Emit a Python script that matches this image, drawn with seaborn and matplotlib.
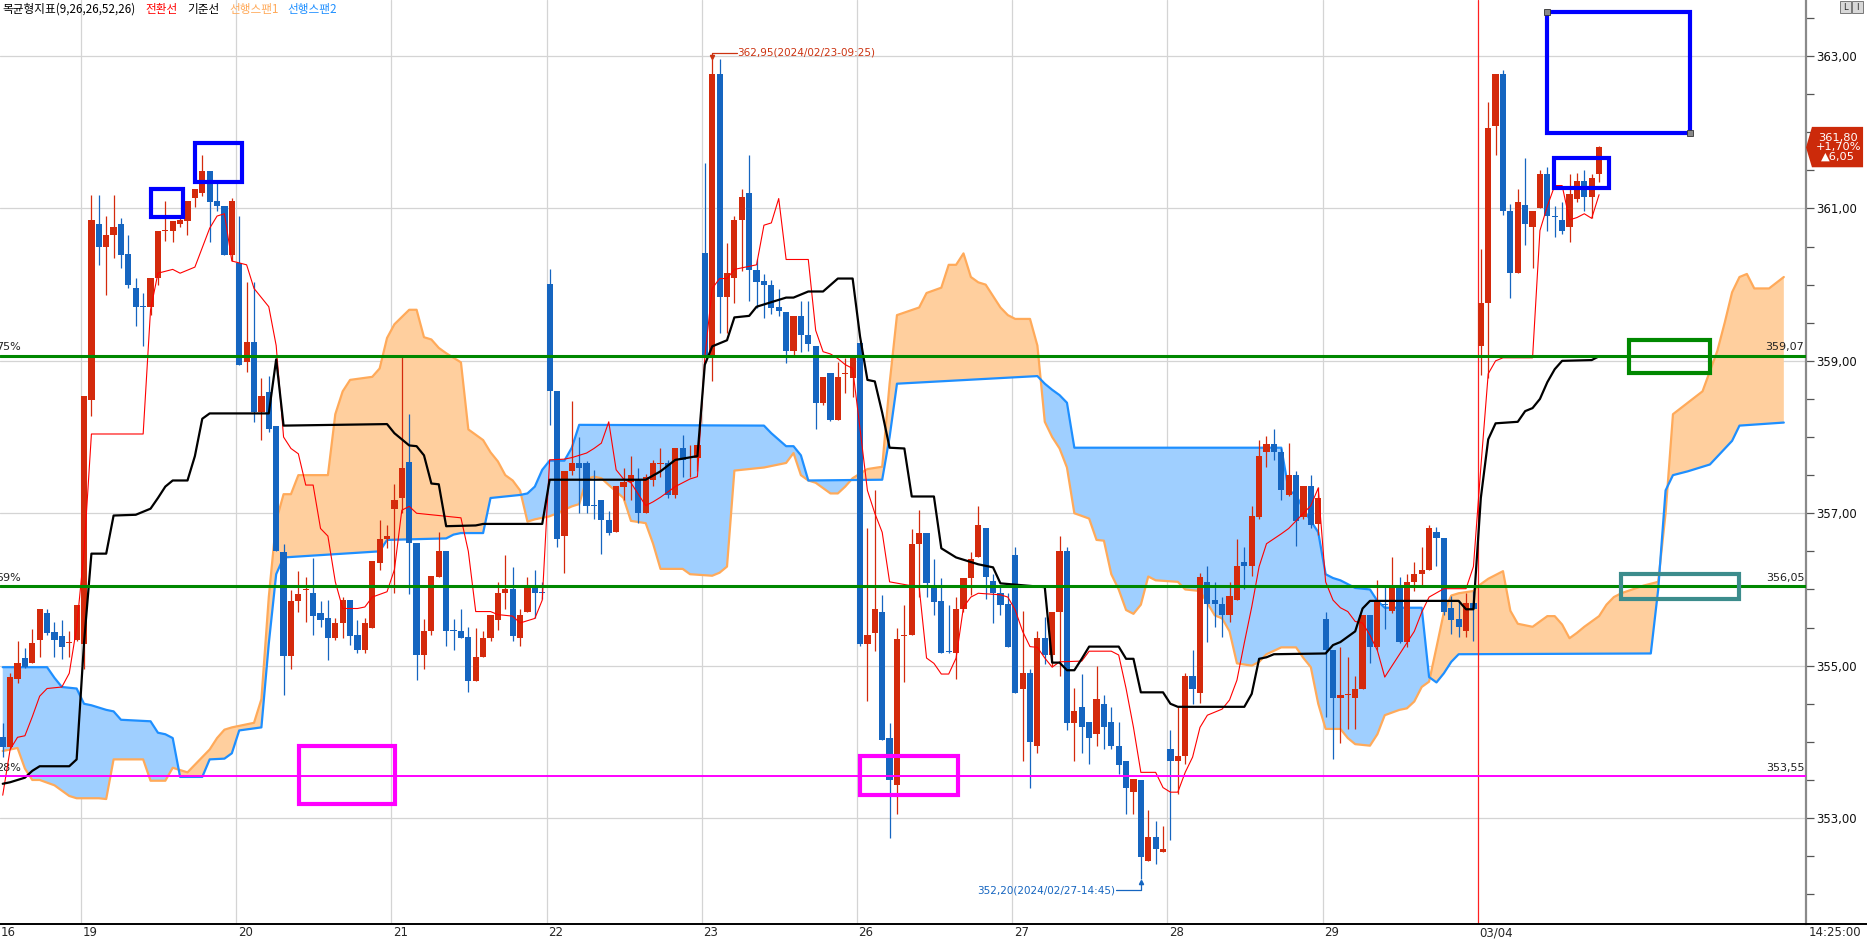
import numpy as np
import pandas as pd
import matplotlib
matplotlib.use("Agg")
import matplotlib.pyplot as plt
import matplotlib.transforms as mtransforms
from matplotlib.patches import Rectangle, Polygon
from matplotlib.lines import Line2D
from matplotlib.ticker import FuncFormatter
import seaborn as sns

# ---- candles (20 min bars), index 0 = first visible bar ----
opens = [354.06, 353.93, 354.83, 355.10, 355.03, 355.34, 355.69, 355.44, 355.39, 355.30,
         355.34, 355.29, 358.49, 360.79, 360.50, 360.65, 360.79, 360.40, 359.95, 359.71,
         359.70, 360.09, 360.70, 360.70, 360.79, 360.84, 361.14, 361.20, 361.49, 361.10,
         361.03, 360.39, 360.29, 358.98, 359.25, 358.33, 358.59, 358.15, 356.49, 355.13,
         355.85, 355.99, 355.95, 355.69, 355.62, 355.36, 355.56, 355.86, 355.40, 355.21,
         355.50, 356.35, 356.66, 357.05, 357.20, 357.67, 356.61, 355.14, 355.45, 356.16,
         356.50, 355.46, 355.45, 355.37, 354.80, 355.11, 355.36, 355.60, 355.95, 356.00,
         355.36, 355.70, 356.04, 355.96, 360.01, 358.60, 356.70, 357.55, 357.66, 357.66,
         357.10, 357.17, 356.91, 356.75, 357.35, 357.41, 357.45, 357.00, 357.43, 357.64,
         357.66, 357.24, 357.85, 357.72, 357.72, 360.41, 359.07, 362.76, 359.84, 360.09,
         360.85, 361.20, 360.19, 360.05, 360.00, 359.71, 359.64, 359.13, 359.59, 359.34,
         359.20, 358.45, 358.84, 358.23, 358.83, 358.78, 359.24, 355.28, 355.43, 355.70,
         354.05, 353.43, 355.39, 355.40, 356.60, 356.74, 356.03, 355.85, 355.19, 355.17,
         355.75, 356.15, 356.42, 356.81, 356.11, 355.95, 355.81, 356.45, 354.70, 354.90,
         353.95, 355.36, 355.14, 355.70, 356.50, 354.25, 354.46, 354.26, 354.10, 354.50,
         354.26, 353.95, 353.75, 353.34, 353.50, 352.44, 352.75, 352.55, 353.90, 353.75,
         353.81, 354.86, 354.64, 356.10, 355.86, 355.81, 355.66, 355.86, 356.36, 356.31,
         356.95, 357.81, 357.91, 357.81, 357.24, 357.50, 356.95, 357.36, 356.86, 355.61,
         355.21, 354.57, 354.61, 354.57, 354.70, 355.66, 355.25, 355.80, 355.72, 356.04,
         355.31, 356.10, 356.20, 356.25, 356.76, 356.67, 355.76, 355.61, 355.45, 355.82,
         359.19, 359.76, 362.08, 362.76, 360.96, 360.15, 361.05, 360.75, 361.00, 361.45,
         360.90, 360.85, 360.75, 361.13, 361.36, 361.15, 361.45]
highs = [354.25, 354.90, 355.33, 355.23, 355.48, 355.74, 355.75, 355.57, 355.60, 355.46,
         355.80, 358.54, 361.18, 361.18, 360.90, 361.18, 360.88, 360.65, 360.09, 359.89,
         360.09, 360.70, 361.10, 360.84, 360.90, 361.10, 361.25, 361.70, 361.49, 361.35,
         361.03, 361.14, 360.90, 360.03, 360.03, 358.78, 358.80, 358.15, 356.59, 355.99,
         356.24, 356.16, 356.41, 355.85, 355.86, 355.62, 355.90, 355.86, 355.60, 355.62,
         356.37, 356.91, 356.85, 357.39, 359.07, 358.30, 356.61, 355.61, 356.17, 356.75,
         356.50, 355.61, 355.75, 355.51, 355.50, 355.45, 355.66, 356.10, 356.45, 356.30,
         355.75, 356.16, 356.25, 356.10, 360.20, 358.60, 357.56, 358.47, 358.00, 357.68,
         357.57, 357.17, 357.03, 357.36, 357.59, 357.75, 357.60, 357.51, 357.70, 357.85,
         357.70, 357.85, 358.03, 357.90, 357.90, 361.60, 362.96, 362.96, 360.54, 360.90,
         361.26, 361.70, 360.34, 360.14, 360.06, 359.94, 359.64, 359.59, 359.78, 359.79,
         359.20, 358.79, 358.84, 358.99, 359.04, 359.04, 359.24, 356.81, 357.30, 355.93,
         354.25, 355.50, 355.80, 356.79, 357.04, 356.74, 356.40, 356.15, 355.80, 355.90,
         356.15, 356.49, 357.10, 356.81, 356.20, 356.03, 355.95, 356.56, 355.72, 354.96,
         355.46, 355.64, 355.70, 356.70, 356.56, 354.71, 354.89, 354.26, 355.00, 354.61,
         354.46, 354.26, 353.75, 353.51, 353.50, 353.10, 352.96, 352.90, 354.15, 354.46,
         354.90, 355.20, 356.21, 356.31, 356.10, 355.90, 356.10, 356.66, 356.56, 357.10,
         357.96, 358.01, 358.10, 357.86, 357.92, 357.56, 357.36, 357.50, 357.35, 355.70,
         355.21, 355.25, 355.12, 354.87, 355.67, 355.66, 356.12, 356.04, 356.42, 356.16,
         356.20, 356.36, 356.56, 356.85, 356.82, 356.67, 355.91, 355.86, 355.95, 355.98,
         360.47, 362.40, 362.76, 362.82, 361.06, 361.25, 361.66, 360.96, 361.51, 361.55,
         361.03, 361.09, 361.45, 361.47, 361.51, 361.45, 361.82]
lows = [353.80, 353.90, 354.77, 354.97, 355.03, 355.12, 355.40, 355.12, 355.09, 355.12,
        355.32, 354.95, 358.27, 360.26, 359.87, 360.35, 360.22, 359.95, 359.46, 359.20,
        359.60, 360.00, 360.57, 360.56, 360.76, 360.65, 361.02, 361.16, 360.56, 360.96,
        360.39, 360.31, 358.95, 358.85, 358.20, 357.96, 358.07, 356.50, 354.61, 354.96,
        355.71, 355.57, 355.40, 355.51, 355.07, 355.34, 355.36, 355.27, 355.16, 355.16,
        355.50, 356.26, 356.55, 355.95, 357.00, 355.94, 354.81, 354.96, 355.40, 356.16,
        355.26, 355.21, 355.36, 354.66, 354.80, 355.11, 355.32, 355.47, 355.75, 355.32,
        355.26, 355.70, 355.62, 355.87, 358.16, 356.56, 356.21, 357.50, 357.00, 357.00,
        356.93, 356.47, 356.72, 356.75, 357.17, 357.17, 356.87, 357.00, 357.36, 357.48,
        357.20, 357.20, 357.48, 357.48, 357.55, 359.07, 358.73, 359.36, 359.36, 359.76,
        360.18, 359.79, 359.69, 359.56, 359.62, 359.59, 358.97, 359.07, 359.11, 359.13,
        358.11, 358.42, 358.21, 358.23, 358.58, 358.52, 355.26, 354.54, 355.19, 354.03,
        352.74, 353.05, 354.79, 355.40, 355.90, 355.90, 355.66, 355.17, 355.16, 354.83,
        355.70, 355.93, 356.42, 355.87, 355.56, 355.66, 355.25, 354.64, 353.75, 353.40,
        353.86, 355.02, 355.00, 354.86, 354.15, 353.75, 353.86, 353.71, 353.95, 353.91,
        353.91, 353.58, 353.06, 353.06, 352.20, 352.44, 352.40, 352.55, 352.71, 353.32,
        353.71, 354.50, 354.51, 355.31, 355.51, 355.37, 355.57, 355.86, 356.01, 356.17,
        356.93, 357.61, 357.70, 357.18, 357.23, 356.57, 356.93, 356.81, 356.72, 354.32,
        353.77, 353.99, 354.17, 354.17, 354.70, 355.03, 355.21, 355.48, 355.69, 355.30,
        355.24, 355.98, 356.04, 356.25, 356.31, 355.67, 355.42, 355.37, 355.37, 355.33,
        358.82, 358.78, 361.70, 360.91, 359.82, 360.15, 360.52, 360.22, 361.00, 360.71,
        360.62, 360.66, 360.56, 361.09, 360.96, 360.87, 361.35]
closes = [353.93, 354.85, 355.04, 354.98, 355.30, 355.74, 355.43, 355.34, 355.24, 355.31,
          355.80, 358.54, 360.85, 360.50, 360.65, 360.75, 360.39, 359.99, 359.70, 359.70,
          360.09, 360.70, 360.71, 360.84, 360.85, 361.10, 361.25, 361.49, 361.08, 361.03,
          360.39, 361.10, 358.95, 359.25, 358.33, 358.54, 358.10, 356.50, 355.13, 355.85,
          355.94, 356.00, 355.65, 355.60, 355.36, 355.56, 355.86, 355.39, 355.21, 355.56,
          356.37, 356.66, 356.70, 357.17, 357.60, 356.61, 355.14, 355.46, 356.17, 356.50,
          355.45, 355.45, 355.36, 354.80, 355.11, 355.36, 355.66, 355.95, 356.00, 355.39,
          355.66, 356.04, 355.95, 355.95, 358.60, 356.66, 357.56, 357.66, 357.60, 357.10,
          357.09, 356.91, 356.74, 357.36, 357.41, 357.50, 357.00, 357.48, 357.66, 357.65,
          357.24, 357.85, 357.70, 357.73, 357.90, 359.07, 362.76, 359.84, 360.15, 360.85,
          361.15, 360.19, 360.04, 359.99, 359.69, 359.66, 359.13, 359.59, 359.34, 359.22,
          358.45, 358.79, 358.23, 358.79, 358.84, 359.04, 355.28, 355.40, 355.75, 354.03,
          353.50, 355.35, 355.40, 356.60, 356.74, 356.09, 355.83, 355.17, 355.18, 355.75,
          356.15, 356.40, 356.84, 356.16, 355.95, 355.79, 355.25, 354.64, 354.90, 354.00,
          355.36, 355.14, 355.70, 356.50, 354.25, 354.40, 354.19, 354.05, 354.56, 354.19,
          353.95, 353.69, 353.39, 353.51, 352.49, 352.75, 352.59, 352.59, 353.75, 353.81,
          354.86, 354.70, 356.16, 355.81, 355.81, 355.66, 355.91, 356.31, 356.31, 356.96,
          357.75, 357.91, 357.81, 357.30, 357.50, 356.90, 357.36, 356.84, 357.20, 355.21,
          354.57, 354.62, 354.62, 354.70, 355.67, 355.25, 355.86, 355.79, 356.04, 355.31,
          356.10, 356.20, 356.26, 356.81, 356.67, 355.70, 355.60, 355.51, 355.82, 355.75,
          359.76, 362.06, 362.76, 360.96, 360.15, 361.09, 360.80, 360.96, 361.45, 360.90,
          360.89, 360.71, 361.19, 361.36, 361.15, 361.40, 361.80]

# ---- ichimoku lines, read as (bar index, value) turning points ----
tenkan_x = [0, 1, 2, 3, 4, 5, 6, 8, 9, 10, 11, 12, 19, 20, 21, 23, 24, 26, 28, 29, 30, 31, 33, 34, 36, 37, 38,
            39, 40, 41, 42, 43, 44, 45, 46, 48, 49, 50, 52, 53, 54, 55, 56, 62, 63, 64, 66, 67, 69, 70, 72, 73,
            74, 76, 77, 79, 80, 81, 82, 83, 84, 85, 86, 87, 88, 89, 91, 93, 94, 95, 96, 97, 98, 99, 102, 103,
            104, 105, 106, 109, 110, 111, 112, 113, 114, 115, 116, 117, 118, 119, 120, 124, 125, 126, 127, 128,
            129, 130, 131, 132, 135, 136, 137, 138, 139, 140, 141, 142, 143, 146, 147, 150, 151, 152, 153, 154,
            156, 157, 158, 159, 160, 161, 162, 163, 165, 166, 167, 168, 169, 170, 171, 173, 174, 175, 176, 177,
            178, 179, 180, 181, 182, 183, 184, 185, 186, 187, 188, 189, 190, 191, 192, 193, 195, 198, 199, 200,
            201, 202, 203, 207, 208, 209, 210, 211, 212, 213, 214, 215, 216]
tenkan_y = [353.3, 353.9, 354.06, 354.08, 354.33, 354.6, 354.7, 354.72, 354.9, 355.5, 356.5, 358.04, 358.04,
            359.67, 360.15, 360.2, 360.15, 360.23, 360.74, 360.9, 360.93, 360.31, 360.26, 359.95, 359.71, 359.2,
            358.0, 357.85, 357.78, 357.37, 357.37, 356.8, 356.7, 356.1, 355.75, 355.75, 355.77, 355.9, 355.97,
            356.26, 357.04, 357.09, 357.0, 356.94, 356.5, 355.71, 355.71, 355.67, 355.65, 355.56, 355.62, 355.86,
            357.7, 357.71, 357.73, 357.79, 357.85, 357.92, 358.2, 357.57, 357.45, 357.4, 357.25, 357.1, 357.15,
            357.21, 357.35, 357.45, 357.48, 359.05, 359.95, 360.08, 360.08, 360.2, 360.26, 360.78, 360.81, 361.13,
            360.33, 360.33, 359.4, 359.12, 359.09, 359.03, 358.95, 358.9, 358.11, 357.3, 357.0, 356.75, 356.1,
            356.03, 355.1, 355.03, 354.89, 354.89, 355.1, 355.77, 355.9, 355.95, 355.93, 355.9, 355.73, 355.45,
            355.25, 355.24, 355.1, 354.98, 355.05, 355.06, 355.19, 355.19, 355.14, 354.7, 354.19, 353.6, 353.6,
            353.4, 353.34, 353.34, 353.6, 353.8, 354.19, 354.35, 354.43, 354.55, 354.81, 355.3, 355.77, 356.3,
            356.6, 356.73, 356.8, 356.9, 357.0, 357.1, 357.33, 356.1, 355.86, 355.76, 355.71, 355.58, 355.56,
            355.4, 355.2, 354.85, 355.0, 355.15, 355.3, 355.45, 355.7, 355.9, 356.01, 356.01, 356.3, 357.6,
            358.83, 359.0, 359.04, 359.04, 360.71, 361.03, 361.3, 361.3, 360.85, 360.88, 360.93, 360.87, 361.18]

kijun_x = [0, 1, 2, 3, 4, 5, 9, 10, 11, 12, 14, 15, 18, 20, 21, 22, 23, 25, 26, 27, 28, 36, 37, 38, 52, 53, 55,
           56, 57, 58, 59, 60, 64, 65, 73, 74, 87, 89, 91, 94, 95, 96, 98, 99, 101, 102, 106, 107, 109, 111, 113,
           115, 116, 117, 118, 119, 120, 122, 123, 126, 127, 129, 132, 134, 135, 141, 142, 143, 144, 145, 146,
           147, 151, 152, 153, 154, 157, 158, 159, 168, 169, 170, 171, 172, 179, 180, 181, 182, 183, 184, 185,
           197, 198, 199, 200, 201, 202, 205, 206, 207, 208, 209, 210, 211, 215, 216]
kijun_y = [353.45, 353.47, 353.5, 353.53, 353.62, 353.68, 353.68, 353.77, 355.3, 356.47, 356.47, 356.97, 356.98,
           357.06, 357.2, 357.35, 357.43, 357.43, 357.75, 358.24, 358.31, 358.31, 359.02, 358.15, 358.17, 358.05,
           357.89, 357.88, 357.76, 357.39, 357.38, 356.83, 356.84, 356.86, 356.86, 357.44, 357.44, 357.55, 357.7,
           357.75, 358.95, 359.19, 359.27, 359.57, 359.59, 359.71, 359.83, 359.83, 359.91, 359.91, 360.08,
           360.08, 359.32, 358.75, 358.73, 358.32, 357.86, 357.85, 357.22, 357.22, 356.54, 356.42, 356.33,
           356.29, 356.08, 356.03, 355.04, 355.04, 354.94, 354.94, 355.09, 355.25, 355.25, 355.09, 355.09,
           354.65, 354.65, 354.5, 354.46, 354.46, 354.63, 355.09, 355.11, 355.15, 355.16, 355.27, 355.31,
           355.38, 355.45, 355.75, 355.85, 355.85, 355.74, 355.74, 357.2, 357.97, 358.18, 358.2, 358.34, 358.38,
           358.5, 358.72, 358.89, 359.0, 359.01, 359.06]

span1_x = [0, 1, 2, 3, 4, 5, 7, 9, 10, 13, 14, 15, 19, 20, 22, 23, 25, 26, 28, 29, 30, 31, 34, 35, 36, 37, 38,
           39, 40, 44, 45, 46, 47, 50, 51, 52, 53, 55, 56, 57, 58, 59, 60, 62, 63, 64, 65, 66, 67, 68, 69, 70,
           71, 72, 74, 75, 77, 78, 79, 80, 81, 82, 84, 85, 87, 88, 89, 92, 93, 96, 97, 98, 99, 103, 106, 107,
           108, 109, 110, 112, 113, 114, 115, 117, 119, 120, 121, 124, 125, 127, 128, 129, 130, 131, 132, 133,
           134, 135, 136, 137, 139, 140, 141, 142, 143, 144, 145, 147, 148, 149, 150, 151, 152, 153, 154, 155,
           156, 159, 160, 162, 163, 164, 165, 166, 167, 169, 170, 171, 173, 175, 176, 177, 178, 179, 181, 182,
           183, 185, 186, 187, 189, 190, 191, 192, 193, 194, 195, 196, 197, 199, 200, 201, 203, 204, 205, 207,
           209, 210, 211, 212, 213, 214, 216, 217, 218, 219, 222, 224, 225, 226, 228, 230, 232, 233, 234, 235,
           236, 237, 239, 241]
span1_y = [353.88, 353.9, 353.92, 353.65, 353.5, 353.5, 353.43, 353.29, 353.26, 353.26, 353.25, 353.77, 353.77,
           353.49, 353.49, 353.66, 353.6, 353.7, 353.9, 354.05, 354.16, 354.19, 354.25, 354.56, 355.9, 356.9,
           357.25, 357.25, 357.5, 357.5, 358.3, 358.6, 358.75, 358.79, 358.9, 359.3, 359.48, 359.67, 359.67,
           359.31, 359.28, 359.17, 359.1, 358.98, 358.1, 358.03, 357.96, 357.8, 357.68, 357.5, 357.43, 357.3,
           356.89, 356.92, 356.96, 357.0, 357.09, 357.12, 357.45, 357.48, 357.46, 357.37, 357.2, 356.9, 356.87,
           356.6, 356.27, 356.27, 356.2, 356.18, 356.22, 356.3, 357.56, 357.6, 357.66, 357.79, 357.5, 357.43,
           357.4, 357.26, 357.26, 357.35, 357.46, 357.58, 357.61, 358.7, 359.6, 359.7, 359.89, 359.96, 360.26,
           360.26, 360.41, 360.1, 360.03, 360.0, 359.85, 359.7, 359.6, 359.55, 359.55, 359.2, 358.2, 358.0,
           357.85, 357.6, 357.0, 356.93, 356.65, 356.64, 356.2, 356.0, 355.73, 355.68, 355.8, 356.17, 356.12,
           356.1, 356.0, 355.98, 355.82, 355.66, 355.62, 355.45, 355.03, 355.0, 355.05, 355.15, 355.24, 355.24,
           355.1, 354.98, 354.5, 354.17, 354.17, 354.05, 353.97, 353.95, 354.1, 354.35, 354.42, 354.44, 354.53,
           354.72, 354.79, 355.24, 355.7, 355.92, 355.95, 355.98, 356.07, 356.14, 356.24, 355.72, 355.55,
           355.51, 355.65, 355.65, 355.54, 355.36, 355.43, 355.51, 355.65, 355.8, 355.9, 355.95, 356.05, 356.1,
           357.0, 358.3, 358.45, 358.6, 359.13, 359.5, 359.9, 360.1, 360.14, 359.95, 359.95, 360.1]

span2_x = [0, 6, 7, 8, 10, 11, 12, 14, 15, 16, 20, 21, 22, 23, 24, 27, 28, 30, 31, 32, 35, 36, 37, 38, 51, 52,
           60, 61, 62, 65, 66, 70, 71, 72, 73, 74, 76, 77, 78, 103, 104, 106, 107, 108, 109, 119, 120, 121, 140,
           141, 142, 143, 144, 145, 173, 174, 175, 176, 177, 178, 179, 180, 181, 183, 185, 186, 187, 192, 193,
           194, 195, 196, 197, 223, 224, 225, 226, 228, 231, 234, 235, 241]
span2_y = [354.98, 354.98, 354.84, 354.72, 354.7, 354.5, 354.48, 354.42, 354.4, 354.29, 354.27, 354.12, 354.1,
           354.05, 353.54, 353.54, 353.77, 353.78, 353.85, 354.15, 354.19, 355.29, 356.2, 356.42, 356.5, 356.65,
           356.67, 356.72, 356.74, 356.74, 357.2, 357.24, 357.26, 357.35, 357.57, 357.69, 357.69, 357.86,
           358.16, 358.15, 358.05, 357.88, 357.88, 357.76, 357.43, 357.44, 358.0, 358.7, 358.8, 358.7, 358.62,
           358.55, 358.45, 357.86, 357.86, 357.3, 357.24, 357.05, 356.9, 356.75, 356.2, 356.15, 356.12, 356.02,
           356.0, 355.85, 355.76, 355.76, 354.85, 354.78, 354.9, 355.05, 355.15, 355.16, 356.0, 357.3, 357.5,
           357.55, 357.64, 357.95, 358.15, 358.19]

day_labels = ['19', '20', '21', '22', '23', '26', '27', '28', '29', '03/04']
day_first_bar = [11, 32, 53, 74, 95, 116, 137, 158, 179, 200]

levels = [359.07, 356.05, 353.55]
level_pct = ['75%', '59%', '28%']
level_colors = ['#008800', '#008800', '#ff00ff']

# drawn boxes: x0, y0, x1, y1, colour
boxes = [(20.0, 360.89, 24.4, 361.25, '#0000ff'),
         (26.0, 361.35, 32.4, 361.86, '#0000ff'),
         (209.0, 361.99, 228.3, 363.58, '#0000ff'),
         (209.9, 361.27, 217.4, 361.66, '#0000ff'),
         (40.1, 353.19, 53.1, 353.95, '#ff00ff'),
         (116.0, 353.30, 129.3, 353.81, '#ff00ff'),
         (220.1, 358.84, 231.0, 359.27, '#008800'),
         (218.9, 355.88, 235.0, 356.20, '#3c8c8c')]

UP = '#d42a0c'
DOWN = '#1565c0'


def kr(v):
    return f'{v:.2f}'.replace('.', ',')


sns.set_theme(style='white')
plt.rcParams['font.family'] = ['DejaVu Sans']
KFONT = ['Noto Sans CJK KR', 'DejaVu Sans']

W, H = 1867, 942
fig = plt.figure(figsize=(W / 100, H / 100), dpi=100)
fig.patch.set_facecolor('white')
ax = fig.add_axes([0, 18 / H, 1806 / W, 924 / H])
ax.set_facecolor('white')

df = pd.DataFrame({'o': opens, 'h': highs, 'l': lows, 'c': closes})
df['x'] = np.arange(len(df))
up = df['c'] >= df['o']
cols = np.where(up, UP, DOWN)

# grid
for v in np.arange(353, 364, 2):
    ax.axhline(v, color='#d4d4d4', lw=0.9, zorder=0.5)
for i, b in enumerate(day_first_bar):
    if day_labels[i] == '03/04':
        ax.axvline(b - 0.4, color='#ff2020', lw=0.9, zorder=2.5)
    else:
        ax.axvline(b - 0.4, color='#d4d4d4', lw=0.9, zorder=0.5)

# cloud
gx = np.union1d(span1_x, span2_x).astype(float)
s1 = np.interp(gx, span1_x, span1_y)
s2 = np.interp(gx, span2_x, span2_y)
ax.fill_between(gx, s1, s2, where=s1 >= s2, interpolate=True, color='#ffcf9e', lw=0, zorder=1)
ax.fill_between(gx, s1, s2, where=s1 < s2, interpolate=True, color='#9fcfff', lw=0, zorder=1)
sns.lineplot(x=span1_x, y=span1_y, ax=ax, color='#ffaa5a', lw=1.6, zorder=2)
sns.lineplot(x=span2_x, y=span2_y, ax=ax, color='#1e8fff', lw=1.6, zorder=2)

# candles
lo = np.minimum(df['l'], np.minimum(df['o'], df['c']))
hi = np.maximum(df['h'], np.maximum(df['o'], df['c']))
ax.vlines(df['x'], lo, hi, colors=cols, lw=0.9, zorder=3)
body = (df['c'] - df['o']).abs().clip(lower=0.014)
ax.bar(df['x'], body, bottom=np.minimum(df['o'], df['c']), width=0.84, color=cols, lw=0, zorder=3)

# conversion / base lines
sns.lineplot(x=tenkan_x, y=tenkan_y, ax=ax, color='#ff0000', lw=0.8, zorder=4)
sns.lineplot(x=kijun_x, y=kijun_y, ax=ax, color='black', lw=1.6, zorder=4)

trans = mtransforms.blended_transform_factory(ax.transAxes, ax.transData)
for v, p, c in zip(levels, level_pct, level_colors):
    ax.axhline(v, color=c, lw=2.2 if c != '#ff00ff' else 1.4, zorder=5)
    ax.text(-0.002, v + 0.04, p, transform=trans, ha='left', va='bottom', fontsize=8, color='#222222')
    ax.text(0.999, v + 0.04, kr(v), transform=trans, ha='right', va='bottom', fontsize=8,
            color='#222222')

for x0, y0, x1, y1, c in boxes:
    ax.add_patch(Rectangle((x0, y0), x1 - x0, y1 - y0, fill=False, ec=c, lw=3.0, zorder=6))
big = boxes[2]
ax.plot([big[0], big[2]], [big[3], big[1]], ls='none', marker='s', ms=4.5, mfc='#888888',
        mec='#333333', mew=0.6, zorder=7)

# high / low markers
hi_i = int(np.argmax(highs))
ytop = 363.04
ax.plot([hi_i, hi_i, hi_i + 3.3], [highs[hi_i] + 0.02, ytop, ytop], color='#cc3311', lw=0.9, zorder=6)
ax.plot([hi_i], [highs[hi_i] + 0.03], marker='v', ms=3, color='#cc3311', zorder=6)
ax.text(hi_i + 3.4, ytop, '362,95(2024/02/23-09:25)', fontsize=7.5, color='#cc3311', va='center', ha='left')
lo_i = int(np.argmin(lows))
ybot = 352.05
ax.plot([lo_i, lo_i, lo_i - 3.4], [lows[lo_i] - 0.02, ybot, ybot], color='#1565c0', lw=0.9, zorder=6)
ax.plot([lo_i], [lows[lo_i] - 0.04], marker='^', ms=3, color='#1565c0', zorder=6)
ax.text(lo_i - 3.5, ybot, '352,20(2024/02/27-14:45)', fontsize=7.5, color='#1565c0', va='center', ha='right')

# axes setup
ax.set_xlim(-0.37, 244.0)
ax.set_ylim(351.61, 363.735)
ax.yaxis.tick_right()
ax.set_yticks(np.arange(353, 364, 2))
ax.set_yticks(np.arange(352, 363.6, 0.5), minor=True)
ax.yaxis.set_major_formatter(FuncFormatter(lambda v, p: kr(v)))
ax.tick_params(axis='y', which='both', right=True, left=False, labelright=True, labelleft=False,
               direction='out', length=6, width=0.9, color='#555555', labelsize=8.5, pad=1,
               labelcolor='#111111')
ax.set_xticks([])
ax.set_xlabel('')
ax.set_ylabel('')
for s in ['top', 'left', 'bottom']:
    ax.spines[s].set_visible(False)
ax.spines['right'].set_color('#8a8a8a')
ax.spines['right'].set_linewidth(1.6)

# date labels
xt = mtransforms.blended_transform_factory(ax.transData, ax.transAxes)
ax.text(-0.3, -0.0095, '16', transform=xt, ha='left', va='center', fontsize=8.5)
for lab, b in zip(day_labels, day_first_bar):
    ax.text(b - 0.2, -0.0095, lab, transform=xt, ha='left', va='center', fontsize=8.5)
fig.add_artist(Line2D([0, 1], [18 / H, 18 / H], transform=fig.transFigure, color='black', lw=1.4))
fig.text(1835 / W, 1 - 933 / H, '14:25:00', ha='center', va='center', fontsize=8.5)

# current price tag
last = closes[-1]
tag = Polygon([(1.0, last), (1.0033, last + 0.27), (1.0316, last + 0.27), (1.0316, last - 0.26),
               (1.0033, last - 0.26)], closed=True, transform=trans, fc='#cc2a0a', ec='none',
              clip_on=False, zorder=8)
ax.add_patch(tag)
ax.text(1.0178, last + 0.005, f'{kr(last)}\n+1,70%\n▲6,05', transform=trans, ha='center', va='center',
        fontsize=8.2, color='white', linespacing=0.92, zorder=9, clip_on=False)

# title
tx = [2, 145, 187, 229, 287]
tt = ['목균형지표(9,26,26,52,26)', '전환선', '기준선', '선행스팬1', '선행스팬2']
tc = ['black', '#ff0000', 'black', '#ffaa5a', '#1e8fff']
for x, t, c in zip(tx, tt, tc):
    fig.text(x / W, 1 - 9 / H, t, color=c, fontsize=8.4, family=KFONT, ha='left', va='center')

# small buttons top right
for x0, lab in [(1840, 'L'), (1852, 'I')]:
    fig.add_artist(Rectangle((x0 / W, 1 - 13 / H), 11 / W, 12 / H, transform=fig.transFigure,
                             fc='#d8d8d8', ec='#666666', lw=0.6))
    fig.text((x0 + 5.5) / W, 1 - 7 / H, lab, fontsize=6, ha='center', va='center')

fig.savefig('out.png', dpi=100, facecolor='white')
